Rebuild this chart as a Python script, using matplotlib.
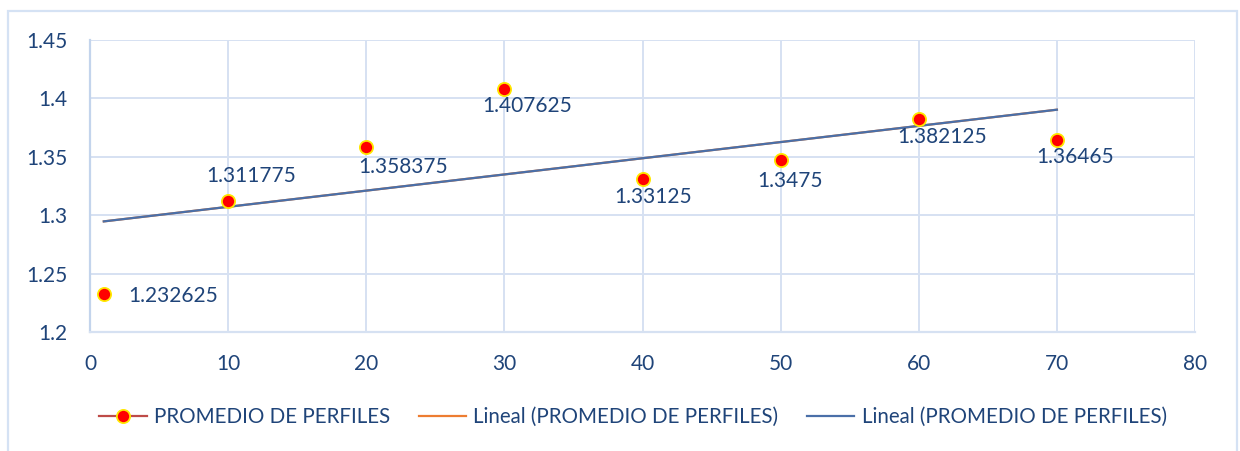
import numpy as np
import matplotlib
matplotlib.use("Agg")
import matplotlib.pyplot as plt
from matplotlib.lines import Line2D
from matplotlib.patches import Rectangle

# Profile averages per distance
x_vals = [1, 10, 20, 30, 40, 50, 60, 70]
y_vals = [1.232625, 1.311775, 1.358375, 1.407625, 1.33125, 1.3475, 1.382125, 1.36465]
value_labels = ["1.232625", "1.311775", "1.358375", "1.407625",
                "1.33125", "1.3475", "1.382125", "1.36465"]
x_ticks = [0, 10, 20, 30, 40, 50, 60, 70, 80]
y_ticks = [1.2, 1.25, 1.3, 1.35, 1.4, 1.45]
y_tick_labels = ["1.2", "1.25", "1.3", "1.35", "1.4", "1.45"]
series_name = "PROMEDIO DE PERFILES"
trend_name = "Lineal (PROMEDIO DE PERFILES)"

# label offsets in pixels (dx, dy) and horizontal alignment
label_offsets = [(24, -2, "left"), (23, 25, "center"), (37, -20, "center"),
                 (23, -17, "center"), (11, -18, "center"), (9, -21, "center"),
                 (23, -18, "center"), (18, -17, "center")]

TEXT = "#1F4479"
GRID = "#D6E1F2"
FONT = "Lato"
FS = 15
LEG_FS = 14.8

plt.rcParams["font.family"] = [FONT, "DejaVu Sans"]

fig = plt.figure(figsize=(12.4, 4.51), dpi=100)
fig.patch.set_facecolor("white")

# outer chart frame
fig.patches.append(Rectangle((8 / 1240, -0.05), (1237 - 8) / 1240, 1.05 - 11 / 451,
                             transform=fig.transFigure, fill=False,
                             edgecolor="#D5E2F4", linewidth=1.6, zorder=0))

ax = fig.add_axes([90 / 1240, 1 - 332 / 451, (1195 - 90) / 1240, (332 - 40) / 451])
ax.set_xlim(0, 80)
ax.set_ylim(1.2, 1.45)
ax.set_xticks(x_ticks)
ax.set_yticks(y_ticks)
ax.set_yticklabels(y_tick_labels)
ax.grid(True, color=GRID, linewidth=1.4, zorder=0)
ax.set_axisbelow(True)
for side in ["top", "right"]:
    ax.spines[side].set_visible(False)
ax.spines["left"].set_color("#C3D4EC")
ax.spines["left"].set_linewidth(1.6)
ax.spines["bottom"].set_color(GRID)
ax.spines["bottom"].set_linewidth(1.6)
ax.tick_params(axis="both", length=0, labelsize=FS, labelcolor=TEXT)
ax.tick_params(axis="x", pad=16)
ax.tick_params(axis="y", pad=16)

# linear trend lines (two identical fits, blue drawn on top)
coef = np.polyfit(x_vals, y_vals, 1)
xt = np.array([x_vals[0], x_vals[-1]])
yt = np.polyval(coef, xt)
ax.plot(xt, yt, color="#ED7D31", linewidth=1.6, zorder=2)
ax.plot(xt, yt, color="#4A6FA8", linewidth=1.6, zorder=3)

# data points
ax.plot(x_vals, y_vals, linestyle="none", marker="o", markersize=9.5,
        markerfacecolor="#FF0000", markeredgecolor="#FFE800",
        markeredgewidth=1.3, zorder=4, clip_on=False)

for xv, yv, lab, (dx, dy, ha) in zip(x_vals, y_vals, value_labels, label_offsets):
    ax.annotate(lab, (xv, yv), xytext=(dx, dy), textcoords="offset pixels",
                ha=ha, va="center", fontsize=FS, color=TEXT, zorder=5)

handles = [
    Line2D([], [], color="#BE4B48", linewidth=1.6, marker="o", markersize=9.5,
           markerfacecolor="#FF0000", markeredgecolor="#FFE800", markeredgewidth=1.3),
    Line2D([], [], color="#ED7D31", linewidth=1.6),
    Line2D([], [], color="#4A6FA8", linewidth=1.6),
]
leg = fig.legend(handles, [series_name, trend_name, trend_name],
                 loc="center", bbox_to_anchor=(633 / 1240, 1 - 417 / 451),
                 ncol=3, frameon=False, fontsize=LEG_FS, handlelength=2.3,
                 handletextpad=0.35, columnspacing=1.4)
for t in leg.get_texts():
    t.set_color(TEXT)

fig.savefig("out.png", dpi=100, facecolor="white")
